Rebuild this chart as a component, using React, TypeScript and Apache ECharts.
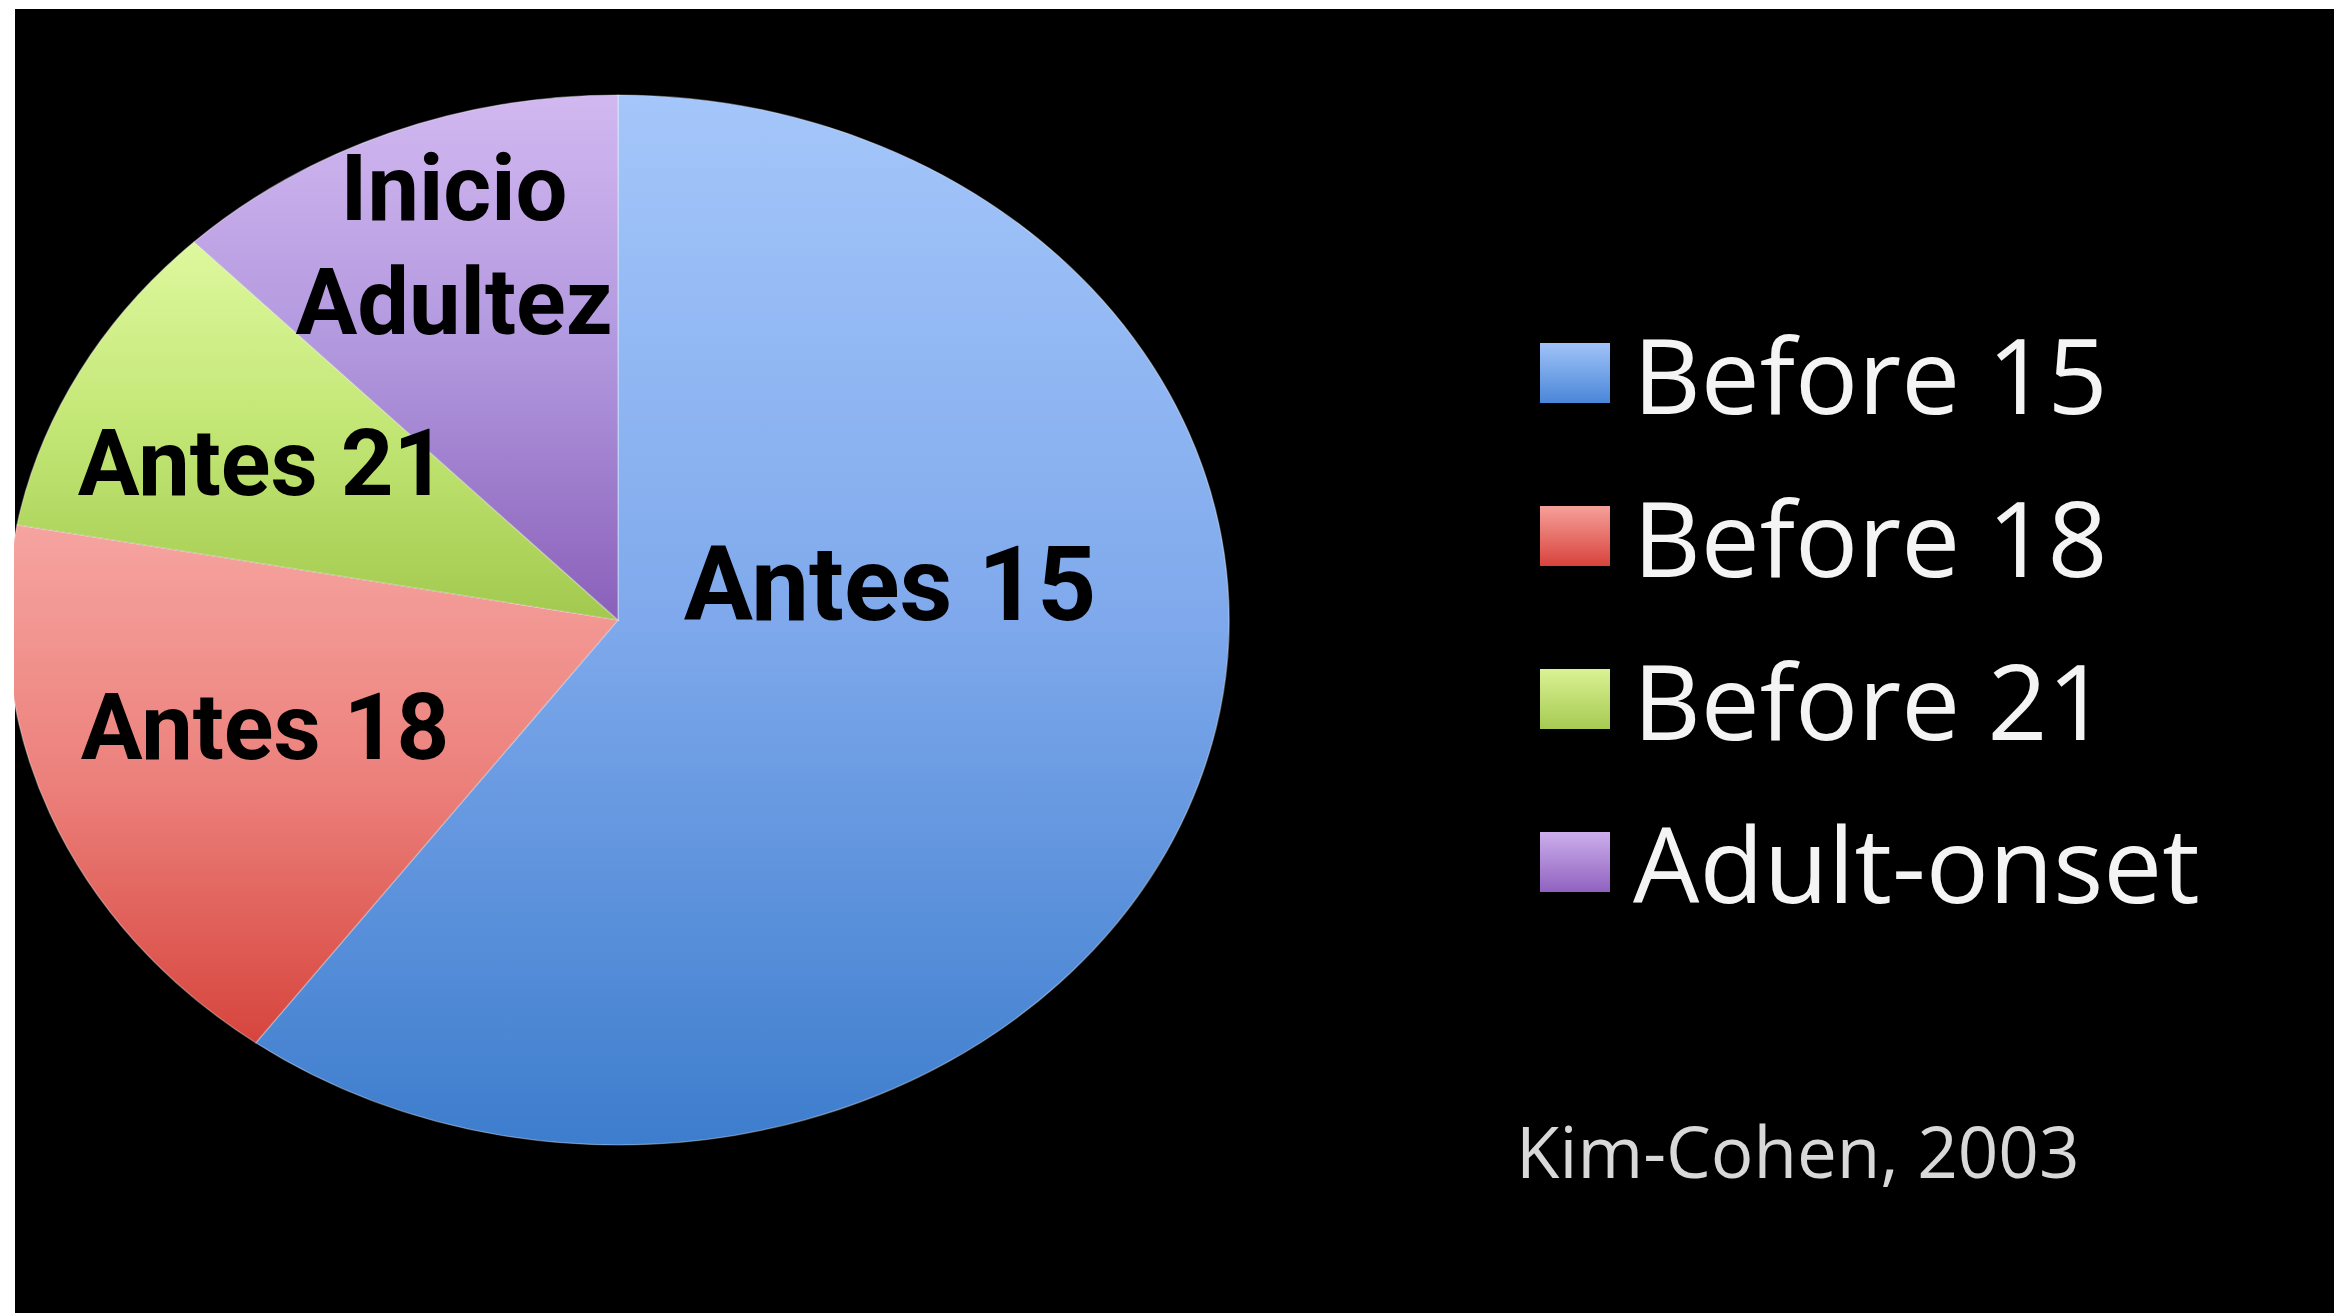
import React, { useEffect, useRef } from "react";
import * as echarts from "echarts";

// ---- data ----
const categories = ["Before 15", "Before 18", "Before 21", "Adult-onset"];
const values = [60.1, 17.8, 9.9, 12.2];
const sliceLabels = ["Antes 15", "Antes 18", "Antes 21", "Inicio\nAdultez"];
const sourceNote = "Kim-Cohen, 2003";

// ---- styling ----
const sliceGradients = [
  ["#a4c6fa", "#7fa9ec", "#3d7dcd"],
  ["#f6a4a0", "#ec807b", "#d6453d"],
  ["#def89e", "#c2e674", "#a2c94e"],
  ["#d2b8f0", "#b096dd", "#8a60ba"],
];
const legendGradients = [
  ["#a0c3f8", "#4a86d8"],
  ["#f6a09a", "#d8433c"],
  ["#daf294", "#a6ca52"],
  ["#ccaeec", "#9062c0"],
];
const PIE = { cx: 618, cy: 620, rx: 611, ry: 525 };
const LABEL_LAYOUT = [
  { x: 890, y: 584, size: 103 },
  { x: 265, y: 727, size: 92 },
  { x: 262, y: 463, size: 92 },
  { x: 454, y: 245, size: 92 },
];

function grad(stops: string[]) {
  return new echarts.graphic.LinearGradient(
    0,
    0,
    0,
    1,
    stops.map((c, i) => ({ offset: i / (stops.length - 1), color: c }))
  );
}

export default function App() {
  const ref = useRef<HTMLDivElement>(null);
  useEffect(() => {
    if (!ref.current) return;
    const chart = echarts.init(ref.current, null, { renderer: "svg" });
    const total = values.reduce((a, b) => a + b, 0);
    const series = categories.map((name, i) => ({
      type: "custom",
      name,
      coordinateSystem: "none",
      z: 2,
      itemStyle: { color: grad(legendGradients[i]) },
      data: [[values[i], values.slice(0, i).reduce((a, b) => a + b, 0)]],
      renderItem: (_params: any, api: any) => {
        const v = api.value(0);
        const cum = api.value(1);
        const start = -Math.PI / 2 + (2 * Math.PI * cum) / total;
        const end = start + (2 * Math.PI * v) / total;
        return {
          type: "sector",
          x: PIE.cx,
          y: PIE.cy,
          scaleX: PIE.rx / PIE.ry,
          scaleY: 1,
          shape: {
            cx: 0,
            cy: 0,
            r0: 0,
            r: PIE.ry,
            startAngle: start,
            endAngle: end,
            clockwise: true,
          },
          style: {
            fill: grad(sliceGradients[i]),
            stroke: "rgba(255,255,255,0.35)",
            lineWidth: 1.2,
            strokeNoScale: true,
          },
        };
      },
    }));

    const labelGraphics = sliceLabels.map((t, i) => ({
      type: "text",
      z: 20,
      style: {
        text: t,
        x: LABEL_LAYOUT[i].x,
        y: LABEL_LAYOUT[i].y,
        fill: "#000",
        font: `bold ${LABEL_LAYOUT[i].size}px Roboto`,
        align: "center",
        verticalAlign: "middle",
        lineHeight: 114,
      },
    }));

    chart.setOption({
      animation: false,
      backgroundColor: "#ffffff",
      legend: {
        orient: "vertical",
        left: 1535,
        top: 313,
        itemWidth: 70,
        itemHeight: 60,
        itemGap: 53,
        selectedMode: false,
        data: categories.map((n, i) => ({
          name: n,
          icon: "rect",
          itemStyle: { color: grad(legendGradients[i]) },
        })),
        textStyle: {
          color: "#f4f4f4",
          fontSize: 105,
          fontFamily: "Open Sans",
          lineHeight: 110,
          padding: [0, 0, 0, 18],
        },
      },
      graphic: [
        {
          type: "rect",
          z: 0,
          shape: { x: 15, y: 9, width: 2319, height: 1304 },
          style: { fill: "#000000" },
        },
        {
          type: "rect",
          z: 10,
          shape: { x: 0, y: 0, width: 14, height: 1313 },
          style: { fill: "#ffffff" },
        },
        ...labelGraphics,
        {
          type: "text",
          z: 20,
          style: {
            text: sourceNote,
            x: 1516,
            y: 1150,
            fill: "#d8d8d8",
            font: "71px 'Open Sans'",
            align: "left",
            verticalAlign: "middle",
          },
        },
      ],
      series,
    });
    return () => chart.dispose();
  }, []);
  return (
    <div
      ref={ref}
      style={{ position: "fixed", left: 0, top: 0, width: 2336, height: 1313 }}
    />
  );
}
